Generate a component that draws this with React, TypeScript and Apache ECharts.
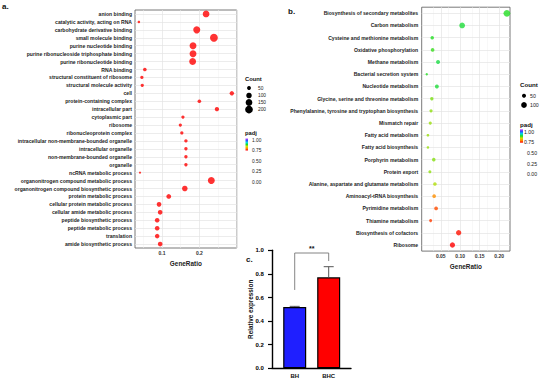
import React, { useEffect, useRef } from 'react';
import * as echarts from 'echarts';

const FONT = '"Liberation Sans", Arial, Helvetica, sans-serif';

// Panel a: GO enrichment
const goTerms = [
  'anion binding',
  'catalytic activity, acting on RNA',
  'carbohydrate derivative binding',
  'small molecule binding',
  'purine nucleotide binding',
  'purine ribonucleoside triphosphate binding',
  'purine ribonucleotide binding',
  'RNA binding',
  'structural constituent of ribosome',
  'structural molecule activity',
  'cell',
  'protein-containing complex',
  'intracellular part',
  'cytoplasmic part',
  'ribosome',
  'ribonucleoprotein complex',
  'intracellular non-membrane-bounded organelle',
  'intracellular organelle',
  'non-membrane-bounded organelle',
  'organelle',
  'ncRNA metabolic process',
  'organonitrogen compound metabolic process',
  'organonitrogen compound biosynthetic process',
  'protein metabolic process',
  'cellular protein metabolic process',
  'cellular amide metabolic process',
  'peptide biosynthetic process',
  'peptide metabolic process',
  'translation',
  'amide biosynthetic process',
];
const goRatio = [
  0.218, 0.038, 0.193, 0.239, 0.183, 0.183, 0.182, 0.054, 0.046, 0.047,
  0.287, 0.200, 0.247, 0.156, 0.149, 0.153, 0.164, 0.164, 0.164, 0.164,
  0.041, 0.232, 0.161, 0.118, 0.092, 0.095, 0.087, 0.087, 0.087, 0.095,
];
const goCount = [
  150, 21, 165, 205, 158, 158, 157, 44, 36, 37,
  64, 44, 62, 36, 34, 35, 38, 38, 38, 38,
  16, 160, 100, 74, 72, 72, 68, 68, 68, 72,
];
const goPadj = [
  0.0, 0.01, 0.0, 0.0, 0.0, 0.0, 0.0, 0.0, 0.0, 0.0,
  0.0, 0.0, 0.0, 0.0, 0.0, 0.0, 0.0, 0.0, 0.0, 0.0,
  0.01, 0.0, 0.0, 0.0, 0.0, 0.0, 0.0, 0.0, 0.0, 0.0,
];
const goTickValues = [0.1, 0.2];
const goMajorGrid = [0.1, 0.2, 0.3];
const goMinorGrid = [0.05, 0.15, 0.25];

// Panel b: KEGG enrichment
const keggTerms = [
  'Biosynthesis of secondary metabolites',
  'Carbon metabolism',
  'Cysteine and methionine metabolism',
  'Oxidative phosphorylation',
  'Methane metabolism',
  'Bacterial secretion system',
  'Nucleotide metabolism',
  'Glycine, serine and threonine metabolism',
  'Phenylalanine, tyrosine and tryptophan biosynthesis',
  'Mismatch repair',
  'Fatty acid metabolism',
  'Fatty acid biosynthesis',
  'Porphyrin metabolism',
  'Protein export',
  'Alanine, aspartate and glutamate metabolism',
  'Aminoacyl-tRNA biosynthesis',
  'Pyrimidine metabolism',
  'Thiamine metabolism',
  'Biosynthesis of cofactors',
  'Ribosome',
];
const keggRatio = [
  0.220, 0.105, 0.028, 0.029, 0.043, 0.014, 0.040, 0.027, 0.025, 0.023,
  0.017, 0.017, 0.032, 0.022, 0.035, 0.033, 0.038, 0.024, 0.096, 0.080,
];
const keggCount = [
  140, 100, 38, 40, 50, 18, 48, 36, 32, 30,
  22, 20, 38, 28, 40, 42, 45, 28, 88, 86,
];
const keggPadj = [
  0.50, 0.52, 0.50, 0.48, 0.53, 0.50, 0.52, 0.42, 0.40, 0.39,
  0.39, 0.39, 0.41, 0.40, 0.37, 0.17, 0.09, 0.07, 0.02, 0.0,
];
const keggTickValues = [0.05, 0.1, 0.15, 0.2];
const keggMajorGrid = [0.05, 0.1, 0.15, 0.2];
const keggMinorGrid = [0.025, 0.075, 0.125, 0.175, 0.225];

// Legends
const goCountBreaks = [50, 100, 150, 200];
const keggCountBreaks = [50, 100];
const padjBreaks = ['1.00', '0.75', '0.50', '0.25', '0.00'];

// Panel c: qPCR
const groups = ['BH', 'BHC'];
const expression = [0.52, 0.771];
const expressionSd = [0.005, 0.09];
const significance = [{ from: 0, to: 1, leftY: 0.664, rightY: 0.909, topY: 0.977, label: '**' }];
const exprTicks = [0, 0.2, 0.4, 0.6, 0.8, 1.0];
const barXMin = -0.668;
const barXMax = 1.656;

const barColors = ['#1f1fff', '#ff0000'];
const padjColors = ['#ff0000', '#ff8c00', '#d8e000', '#22dd22', '#00d8e8', '#3050ff', '#c040ff'];

const goSize = (c: number) => 0.55 * Math.sqrt(c);
const keggSize = (c: number) => 0.57 * Math.sqrt(c);

const gridLineData = (major: number[], minor: number[], n: number) => [
  ...minor.map((v) => ({ xAxis: v, lineStyle: { color: '#f1f1f1', width: 0.5, type: 'solid' } })),
  ...major.map((v) => ({ xAxis: v, lineStyle: { color: '#e4e4e4', width: 0.7, type: 'solid' } })),
  ...Array.from({ length: n }, (_, i) => ({ yAxis: i, lineStyle: { color: '#e4e4e4', width: 0.7, type: 'solid' } })),
];

const legendGraphics = (
  x: number,
  countTitleY: number,
  circleX: number,
  labelX: number,
  breaks: number[],
  breakY: number[],
  sizeFn: (c: number) => number,
  padjY: number,
  barRect: { x: number; y: number; w: number; h: number },
  padjLabelX: number[],
  padjLabelY: number[],
  fs: number,
) => {
  const els: any[] = [];
  els.push({ type: 'text', x, y: countTitleY, style: { text: 'Count', font: `bold ${fs + 1}px ${FONT}`, fill: '#111', verticalAlign: 'middle' } });
  breaks.forEach((b, i) => {
    els.push({ type: 'circle', shape: { cx: circleX, cy: breakY[i], r: sizeFn(b) / 2 }, style: { fill: '#000' } });
    els.push({ type: 'text', x: labelX, y: breakY[i], style: { text: String(b), font: `${fs}px ${FONT}`, fill: '#222', verticalAlign: 'middle' } });
  });
  els.push({ type: 'text', x, y: padjY, style: { text: 'padj', font: `bold ${fs + 1}px ${FONT}`, fill: '#111', verticalAlign: 'middle' } });
  els.push({
    type: 'rect',
    shape: { x: barRect.x, y: barRect.y, width: barRect.w, height: barRect.h },
    style: {
      fill: new echarts.graphic.LinearGradient(0, 0, 0, 1,
        padjColors.slice().reverse().map((c, i) => ({ offset: i / (padjColors.length - 1), color: c }))),
    },
  });
  padjBreaks.forEach((t, i) => {
    els.push({ type: 'text', x: padjLabelX[i], y: padjLabelY[i], style: { text: t, font: `${fs}px ${FONT}`, fill: '#222', verticalAlign: 'middle' } });
  });
  return els;
};

export default function App() {
  const ref = useRef<HTMLDivElement>(null);
  useEffect(() => {
    const chart = echarts.init(ref.current!, null, { renderer: 'svg' });
    const catLabel = { fontSize: 5.1, fontWeight: 'bold', color: '#222', fontFamily: FONT, margin: 3 };
    const staticGraphics: any[] = [
      { type: 'text', x: 2, y: 6, style: { text: 'a.', font: `bold 8px ${FONT}`, fill: '#111', verticalAlign: 'middle' } },
      { type: 'text', x: 288, y: 11, style: { text: 'b.', font: `bold 8px ${FONT}`, fill: '#111', verticalAlign: 'middle' } },
      { type: 'text', x: 246, y: 259, style: { text: 'c.', font: `bold 8px ${FONT}`, fill: '#111', verticalAlign: 'middle' } },
      ...legendGraphics(245, 78.7, 249, 258, goCountBreaks, [88, 95.5, 102.5, 109.5], goSize, 133.3,
        { x: 245.5, y: 138.5, w: 2.5, h: 12 }, [252, 252, 252, 252, 252], [140, 150.3, 161.3, 171.7, 182.7], 4.8),
      ...legendGraphics(520, 84.3, 524, 530, keggCountBreaks, [95.7, 105], keggSize, 124,
        { x: 520, y: 129.3, w: 3, h: 13.4 }, [524, 524, 527, 527, 527], [131.7, 141.7, 152.7, 164, 174], 5.2),
    ];
    const option: any = {
      animation: false,
      backgroundColor: '#fff',
      textStyle: { fontFamily: FONT },
      grid: [
        { left: 135, top: 10, width: 101.7, height: 238, show: true, borderColor: '#555', borderWidth: 0.8, backgroundColor: '#fff' },
        { left: 421.7, top: 7.2, width: 88.3, height: 243.9, show: true, borderColor: '#555', borderWidth: 0.8, backgroundColor: '#fff' },
        { left: 272, top: 250.3, width: 79, height: 118, show: false },
      ],
      xAxis: [
        {
          gridIndex: 0, type: 'value', min: 0.0276, max: 0.3,
          splitLine: { show: false }, axisLine: { show: false },
          axisTick: { customValues: goTickValues, length: 2, lineStyle: { color: '#555', width: 0.6 } },
          axisLabel: { customValues: goTickValues, formatter: (v: number) => v.toFixed(1), fontSize: 5, fontWeight: 'bold', color: '#333', margin: 2.5 },
          name: 'GeneRatio', nameLocation: 'middle', nameGap: 10.5,
          nameTextStyle: { fontSize: 6.4, fontWeight: 'bold', color: '#222' },
        },
        {
          gridIndex: 1, type: 'value', min: 0.001, max: 0.228,
          splitLine: { show: false }, axisLine: { show: false },
          axisTick: { customValues: keggTickValues, length: 2, lineStyle: { color: '#555', width: 0.6 } },
          axisLabel: { customValues: keggTickValues, formatter: (v: number) => v.toFixed(2), fontSize: 5, fontWeight: 'bold', color: '#333', margin: 2.5 },
          name: 'GeneRatio', nameLocation: 'middle', nameGap: 11.5,
          nameTextStyle: { fontSize: 6.4, fontWeight: 'bold', color: '#222' },
        },
        {
          gridIndex: 2, type: 'value', min: barXMin, max: barXMax,
          splitLine: { show: false },
          axisLine: { show: true, onZero: false, lineStyle: { color: '#000', width: 1.4 } },
          axisTick: { show: false },
          axisLabel: { customValues: [0, 1], formatter: (v: number) => groups[Math.round(v)], fontSize: 6, fontWeight: 'bold', color: '#111', margin: 5 },
        },
      ],
      yAxis: [
        {
          gridIndex: 0, type: 'category', data: goTerms, inverse: true,
          axisLine: { show: false }, splitLine: { show: false },
          axisTick: { alignWithLabel: true, length: 2, lineStyle: { color: '#555', width: 0.6 } },
          axisLabel: { ...catLabel, interval: 0 },
        },
        {
          gridIndex: 1, type: 'category', data: keggTerms, inverse: true,
          axisLine: { show: false }, splitLine: { show: false },
          axisTick: { alignWithLabel: true, length: 2, lineStyle: { color: '#555', width: 0.6 } },
          axisLabel: { ...catLabel, interval: 0, margin: 3.5 },
        },
        {
          gridIndex: 2, type: 'value', min: 0, max: 1,
          splitLine: { show: false },
          axisLine: { show: true, onZero: false, lineStyle: { color: '#000', width: 1.4 } },
          axisTick: { show: true, customValues: exprTicks, length: 4, lineStyle: { color: '#000', width: 1.2 } },
          axisLabel: { show: false },
        },
      ],
      visualMap: [
        {
          show: false, type: 'continuous', seriesIndex: [0, 1], dimension: 3, min: 0, max: 1,
          inRange: { color: padjColors },
        },
      ],
      series: [
        {
          type: 'scatter', xAxisIndex: 0, yAxisIndex: 0, z: 3,
          data: goTerms.map((_, i) => [goRatio[i], i, goCount[i], goPadj[i]]),
          symbolSize: (v: number[]) => goSize(v[2]),
          markLine: { silent: true, symbol: 'none', z: 1, label: { show: false }, data: gridLineData(goMajorGrid, goMinorGrid, goTerms.length) },
        },
        {
          type: 'scatter', xAxisIndex: 1, yAxisIndex: 1, z: 3,
          data: keggTerms.map((_, i) => [keggRatio[i], i, keggCount[i], keggPadj[i]]),
          symbolSize: (v: number[]) => keggSize(v[2]),
          markLine: { silent: true, symbol: 'none', z: 1, label: { show: false }, data: gridLineData(keggMajorGrid, keggMinorGrid, keggTerms.length) },
        },
        {
          type: 'bar', xAxisIndex: 2, yAxisIndex: 2, barWidth: 23, z: 2,
          data: groups.map((_, i) => ({ value: [i, expression[i]], itemStyle: { color: barColors[i] } })),
          itemStyle: { borderColor: '#000', borderWidth: 1.2 },
        },
        {
          type: 'custom', xAxisIndex: 2, yAxisIndex: 2, z: 4,
          data: groups.map((_, i) => [i, expression[i], expressionSd[i]]),
          encode: { x: 0, y: 1 },
          renderItem: (_p: any, api: any) => {
            const x = api.value(0), y = api.value(1), e = api.value(2);
            const p0 = api.coord([x, y]);
            const p1 = api.coord([x, y + e]);
            return {
              type: 'group',
              children: [
                { type: 'line', shape: { x1: p0[0], y1: p0[1], x2: p1[0], y2: p1[1] }, style: { stroke: '#555', lineWidth: 1 } },
                { type: 'line', shape: { x1: p1[0] - 5, y1: p1[1], x2: p1[0] + 5, y2: p1[1] }, style: { stroke: '#555', lineWidth: 1 } },
              ],
            };
          },
        },
        {
          type: 'custom', xAxisIndex: 2, yAxisIndex: 2, z: 4, clip: false,
          data: significance.map((s) => [s.from, s.to, s.leftY, s.rightY, s.topY]),
          encode: { x: [0, 1], y: [2, 3, 4] },
          renderItem: (p: any, api: any) => {
            const from = api.value(0), to = api.value(1);
            const a = api.coord([from, api.value(2)]);
            const b = api.coord([from, api.value(4)]);
            const c = api.coord([to, api.value(4)]);
            const d = api.coord([to, api.value(3)]);
            return {
              type: 'group',
              children: [
                { type: 'polyline', shape: { points: [a, b, c, d] }, style: { stroke: '#777', lineWidth: 0.9, fill: 'none' } },
                {
                  type: 'text', x: (b[0] + c[0]) / 2, y: b[1] - 1.5,
                  style: { text: significance[p.dataIndex].label, font: `bold 7px ${FONT}`, fill: '#111', align: 'center', verticalAlign: 'bottom' },
                },
              ],
            };
          },
        },
      ],
      graphic: staticGraphics,
    };
    chart.setOption(option);
    // y tick labels and title of panel c, positioned through the axis scale
    const top = chart.convertToPixel({ gridIndex: 2 } as any, [barXMin, 1]) as number[];
    const bottom = chart.convertToPixel({ gridIndex: 2 } as any, [barXMin, 0]) as number[];
    const extra: any[] = exprTicks.map((v) => {
      const pt = chart.convertToPixel({ gridIndex: 2 } as any, [barXMin, v]) as number[];
      return {
        type: 'text', x: pt[0] - 16.5, y: pt[1] - 3, z: 100, zlevel: 0,
        style: { text: v.toFixed(1), fontSize: 6, fontWeight: 'bold', fontFamily: 'Liberation Sans', fill: '#000', align: 'left', verticalAlign: 'top' },
      };
    });
    extra.push({
      type: 'text', x: top[0] - 22, y: (top[1] + bottom[1]) / 2, rotation: Math.PI / 2, z: 100,
      style: { text: 'Relative expression', fontSize: 6.3, fontWeight: 'bold', fontFamily: 'Liberation Sans', fill: '#111', align: 'center', verticalAlign: 'middle' },
    });
    chart.setOption({ graphic: [...staticGraphics, ...extra] });
    return () => chart.dispose();
  }, []);
  return <div ref={ref} style={{ position: 'fixed', left: 0, top: 0, width: 550, height: 384, background: '#fff' }} />;
}
